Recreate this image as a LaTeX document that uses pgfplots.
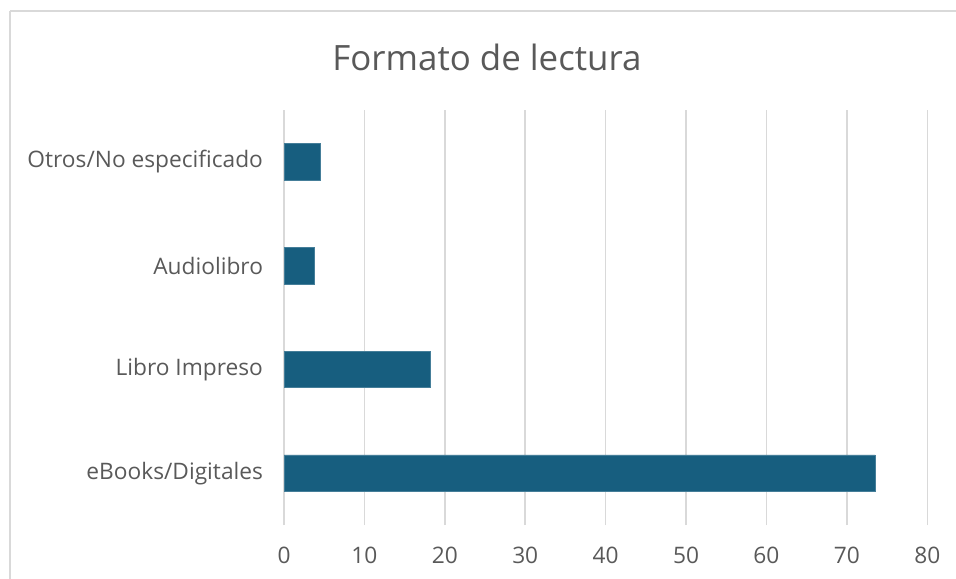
\documentclass[border=0pt]{standalone}
\usepackage{pgfplots}
\pgfplotsset{compat=1.18}
\usepackage{fontspec}
\setmainfont{Open Sans}
\definecolor{barblue}{HTML}{175E7F}
\definecolor{gridgray}{HTML}{D9D9D9}
\definecolor{txtgray}{HTML}{595959}
\begin{document}
\begin{tikzpicture}
\path[use as bounding box] (0,0) rectangle (478bp,-289.5bp);
\begin{scope}
\clip (0,0) rectangle (478bp,-289.5bp);
\draw[gridgray,line width=0.75bp] (5bp,-5.5bp) -- (600bp,-5.5bp);
\draw[gridgray,line width=0.75bp] (5bp,-5.5bp) -- (5bp,-400bp);
\end{scope}
\node[txtgray,font=\fontsize{17.5}{20}\selectfont] at (243.5bp,-28.5bp) {Formato de lectura};
\begin{axis}[
  at={(142bp,-262.5bp)}, anchor=south west,
  scale only axis, width=321.65bp, height=207.5bp,
  xbar, bar width=18.25bp,
  xmin=0, xmax=80, ymin=-0.5, ymax=3.5,
  xtick={0,10,...,80},
  ytick={0,1,2,3},
  yticklabels={eBooks/Digitales,Libro Impreso,Audiolibro,Otros/No especificado},
  xmajorgrids, major grid style={gridgray,line width=0.75bp},
  axis line style={draw=none},
  major tick length=0pt,
  tick label style={txtgray,font=\fontsize{11.4}{13}\selectfont},
  xticklabel style={yshift=-7.5bp},
  yticklabel style={xshift=-7bp},
  /pgf/number format/assume math mode=true,
  clip=false,
]
\addplot[fill=barblue,draw=barblue!80!white,line width=0.3bp] coordinates {(73.5,0) (18.2,1) (3.8,2) (4.5,3)};
\end{axis}
\end{tikzpicture}
\end{document}
